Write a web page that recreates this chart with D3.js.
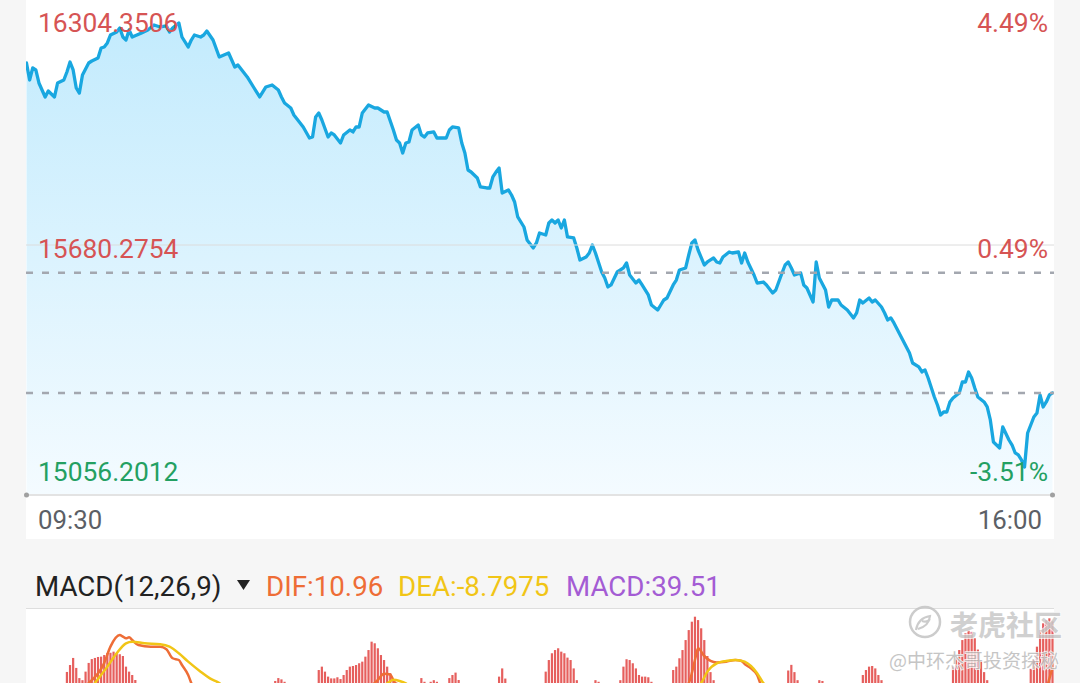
<!DOCTYPE html>
<meta charset="utf-8">
<style>
body { margin:0; background:#f6f6f6; font-family: Roboto, "Noto Sans", sans-serif; }
svg { display:block; }
</style>
<body>
<svg id="chart" width="1080" height="683"></svg>
<script src="https://d3js.org/d3.v7.min.js"></script>
<script>
// intraday data: [minute since 09:30 (lunch removed), price]
var pricePoints = [
  [0,16134.6],[1,16092.2],[2,16122.2],[3,16117.2],[4,16084.7],[6,16049.8],[7,16064.7],[9,16049.8],[10,16084.7],[12,16092.2],
  [13,16112.2],[14,16137.1],[15,16117.2],[16,16072.2],[17,16059.7],[18,16104.7],[20,16134.6],[21,16139.6],[23,16147.1],[24,16172.1],
  [25,16174.6],[26,16184.6],[27,16204.5],[29,16212.0],[30,16222.0],[31,16199.5],[32,16192.0],[33,16217.0],[34,16199.5],[37,16209.5],
  [39,16217.0],[41,16229.5],[43,16224.5],[45,16227.0],[46,16212.0],[47,16222.0],[49,16234.5],[50,16199.5],[52,16174.6],[53,16192.0],
  [54,16204.5],[56,16199.5],[57,16204.5],[58,16214.5],[60,16192.0],[62,16149.6],[65,16159.6],[67,16124.6],[68,16129.6],[71,16099.7],
  [73,16074.7],[75,16049.8],[77,16074.7],[79,16079.7],[81,16067.2],[82,16049.8],[83,16034.8],[85,16022.3],[86,16004.8],[88,15984.9],
  [89,15974.9],[91,15947.4],[92,15949.9],[93,15999.8],[94,16009.8],[95,15992.3],[97,15949.9],[98,15959.9],[99,15954.9],[101,15934.9],
  [102,15954.9],[104,15967.4],[105,15962.4],[106,15974.9],[107,15974.9],[108,16009.8],[110,16029.8],[112,16022.3],[113,16022.3],[114,16017.3],
  [115,16012.3],[116,16012.3],[118,15967.4],[119,15942.4],[120,15934.9],[121,15910.0],[122,15934.9],[123,15937.4],[124,15967.4],[126,15979.9],
  [127,15954.9],[128,15949.9],[129,15959.9],[131,15962.4],[132,15947.4],[134,15947.4],[135,15947.4],[136,15967.4],[137,15974.9],[139,15972.4],
  [140,15934.9],[141,15910.0],[142,15867.5],[143,15862.5],[144,15855.0],[145,15847.6],[146,15825.1],[148,15822.6],[149,15822.6],[150,15850.1],
  [151,15862.5],[152,15872.5],[153,15810.1],[155,15817.6],[156,15805.1],[157,15787.6],[158,15750.2],[160,15725.2],[161,15692.8],[163,15672.8],
  [164,15685.3],[165,15710.3],[167,15705.3],[168,15735.2],[169,15742.7],[170,15735.2],[171,15742.7],[172,15722.7],[173,15742.7],[174,15700.3],
  [176,15697.8],[177,15672.8],[178,15642.9],[180,15650.4],[181,15660.3],[182,15680.3],[183,15660.3],[185,15612.9],[186,15597.9],[187,15575.5],
  [188,15580.5],[190,15612.9],[192,15622.9],[193,15635.4],[194,15605.4],[196,15585.4],[197,15592.9],[198,15580.5],[200,15555.5],[201,15530.5],
  [203,15518.0],[204,15530.5],[205,15543.0],[206,15548.0],[208,15580.5],[209,15592.9],[210,15617.9],[212,15622.9],[213,15655.3],[214,15685.3],
  [215,15692.8],[216,15667.8],[218,15630.4],[219,15637.9],[221,15647.9],[222,15637.9],[223,15635.4],[224,15650.4],[226,15662.8],[227,15660.3],
  [229,15662.8],[230,15635.4],[231,15660.3],[232,15637.9],[234,15605.4],[235,15585.4],[237,15587.9],[238,15580.5],[240,15560.5],[241,15568.0],
  [243,15610.4],[244,15630.4],[245,15637.9],[246,15622.9],[247,15605.4],[249,15610.4],[250,15580.5],[251,15573.0],[252,15555.5],[253,15538.0],
  [254,15637.9],[255,15597.9],[257,15568.0],[258,15525.5],[259,15543.0],[261,15543.0],[262,15530.5],[264,15518.0],[266,15498.1],[267,15510.6],
  [268,15543.0],[269,15535.5],[271,15548.0],[272,15538.0],[273,15543.0],[275,15525.5],[276,15510.6],[277,15493.1],[278,15498.1],[279,15485.6],
  [281,15455.6],[283,15425.7],[284,15410.7],[285,15385.7],[287,15375.8],[288,15363.3],[289,15368.3],[290,15348.3],[292,15300.9],[293,15280.9],
  [294,15255.9],[295,15263.4],[296,15263.4],[297,15288.4],[298,15298.4],[300,15310.9],[301,15338.3],[302,15338.3],[303,15363.3],[304,15348.3],
  [305,15323.3],[306,15300.9],[308,15288.4],[309,15275.9],[310,15243.5],[311,15188.5],[313,15173.6],[314,15226.0],[316,15193.5],[317,15181.0],
  [318,15161.1],[319,15156.1],[320,15143.6],[321,15126.1],[322,15211.0],[324,15250.9],[325,15260.9],[326,15305.9],[327,15275.9],[328,15288.4],
  [329,15305.9],[330,15310.9]
];
var totalMinutes = 330;
var priceRange = [15056.2012, 16304.3506];
var priceLabels = ["16304.3506", "15680.2754", "15056.2012"];
var priceLabelValues = [16304.3506, 15680.2754, 15056.2012];
var pctLabels = ["4.49%", "0.49%", "-3.51%"];
var timeLabels = ["09:30", "16:00"];
var refLines = [15611.0, 15310.9];   // dashed reference prices

// MACD histogram, visible (positive) bars: [first minute, values...]
var macdBars = [
  [13, [8.1, 12.4, 16.8, 10.6, 4.3, 3]],
  [19, [8.3, 13.7, 16.1, 16.8, 17.4, 17.6, 18.6, 19.9, 20, 20.7, 19.7, 19.1, 18, 11.4, 8.3, 6.2, 3.1]],
  [80, [2.5, 4.3, 3.5, 2]],
  [94, [9.3, 11.4, 8.3, 5.2, 4.1, 4.1, 4.8, 3.7, 6.2, 9.3, 11.4, 11.8, 12.4, 13.5, 14.5, 17.6, 21.7, 26.9, 25.9, 22.8, 18.6, 15.5, 11.4, 7.3, 3.5, 1.5]],
  [127, [4.3, 2]],
  [130, [2, 3, 2]],
  [136, [4.3, 6.2, 7.7, 3.1]],
  [152, [5.2, 10.3, 4]],
  [167, [8.3, 15.5, 19.7, 21.7, 22.8, 20.7, 19.7, 17, 15.5, 10.3, 3]],
  [183, [3, 2]],
  [191, [3, 11.4, 16, 15.5, 13.5, 10.3, 6.2, 5.2, 5.2, 4.8, 2]],
  [208, [9.3, 11.4, 16.6, 21.7, 27.9, 34.1, 39.3, 42.4, 40.3, 35.2, 27.9, 18, 8, 3]],
  [245, [9, 12.5, 8, 3]],
  [255, [3, 2.5]],
  [269, [6.2, 9.3, 11.4, 11.8, 10.3, 6.2, 3]],
  [298, [11.4, 16.6, 21.7, 27.9, 32.1, 34.1, 33, 29, 22, 15, 8, 3]],
  [323, [10, 15.5, 23.8, 34.1, 38.3, 40.3, 41.4, 39.51]]
];
var difPoints = [
  [0,-12],[10,-8],[17,-3],[20,1.2],[25,13.7],[27,23.8],[30,31],[31,30],[32,29],[33,29.6],[34,27.9],[36,24.8],[40,23.8],
  [43,23.8],[45,22.2],[47,16.6],[49,15.5],[50,12.4],[52,6.2],[53,1.2],[56,-8],[70,-20],[90,-15],[105,-6],[110,-2],
  [113,3.1],[115,7],[117,6.5],[118,3],[120,-2],[125,-8],[150,-12],[180,-10],[205,-6],[211,-2],[213,1.2],[215,15.5],
  [216,22.8],[218,18],[220,15],[222,14],[225,14.5],[228,15.5],[230,14.9],[231,13],[233,10.3],[235,6.2],[236,1.2],
  [238,-4],[260,-20],[290,-35],[315,-25],[325,-8],[328,-2],[329,4],[330,10.96]
];
var deaPoints = [
  [0,-8],[20,-4],[22,1.2],[26,11.4],[29,19.7],[32,25.9],[34,26.9],[38,25.9],[43,25.3],[46,23.8],[49,19.7],[52,14.5],
  [56,8.3],[59,4.1],[62,1.2],[66,-5],[90,-15],[110,-8],[114,-2],[116,1],[118,3.2],[120,2.5],[122,1],[124,-2],[150,-10],
  [200,-8],[214,-3],[217,1.2],[219,8.3],[222,13.5],[225,14.9],[228,15.5],[231,14.5],[233,11.8],[235,7.3],[237,1.2],
  [240,-4],[270,-18],[300,-28],[320,-20],[330,-8.8]
];
var macdTitle = "MACD(12,26,9)";
var macdLegend = [
  {label: "DIF:10.96", color: "#ee6d36"},
  {label: "DEA:-8.7975", color: "#f1c516"},
  {label: "MACD:39.51", color: "#a45cd4"}
];

var svg = d3.select("#chart");
var left = 26, right = 1054;

// backgrounds
svg.append("rect").attr("x", 0).attr("y", 0).attr("width", 1080).attr("height", 683).attr("fill", "#f6f6f6");
svg.append("rect").attr("x", left).attr("y", 0).attr("width", right - left).attr("height", 539).attr("fill", "#fff");
svg.append("rect").attr("x", left).attr("y", 609).attr("width", right - left).attr("height", 74).attr("fill", "#fff");

var defs = svg.append("defs");
var grad = defs.append("linearGradient").attr("id", "areaGrad").attr("x1", 0).attr("y1", 0).attr("x2", 0).attr("y2", 1);
grad.append("stop").attr("offset", "0%").attr("stop-color", "#c3ebfd");
grad.append("stop").attr("offset", "100%").attr("stop-color", "#f4fbff");
defs.append("clipPath").attr("id", "priceClip").append("rect")
  .attr("x", left).attr("y", 0).attr("width", right - left).attr("height", 495);
defs.append("clipPath").attr("id", "macdClip").append("rect")
  .attr("x", left).attr("y", 609).attr("width", right - left).attr("height", 74);

// scales
var x = d3.scaleLinear().domain([0, totalMinutes]).range([left + 0.5, right - 1.5]);
var y = d3.scaleLinear().domain(priceRange).range([495, -5]);
var my = d3.scaleLinear().domain([0, 47.8]).range([685, 608]);

// price panel
var pg = svg.append("g").attr("clip-path", "url(#priceClip)");
var area = d3.area()
  .x(function(d) { return x(d[0]); })
  .y0(y(priceRange[0]))
  .y1(function(d) { return y(d[1]); });
pg.append("path").datum(pricePoints).attr("d", area).attr("fill", "url(#areaGrad)");

// mid grid line
svg.append("line").attr("x1", left).attr("x2", right)
  .attr("y1", y(priceLabelValues[1])).attr("y2", y(priceLabelValues[1]))
  .attr("stroke", "#dcdcdc").attr("stroke-width", 1);

// dashed reference lines
svg.selectAll(".ref").data(refLines).enter().append("line")
  .attr("class", "ref")
  .attr("x1", left).attr("x2", right)
  .attr("y1", function(d) { return y(d); }).attr("y2", function(d) { return y(d); })
  .attr("stroke", "#a3a7af").attr("stroke-width", 2.5).attr("stroke-dasharray", "7,9");

var line = d3.line()
  .x(function(d) { return x(d[0]); })
  .y(function(d) { return y(d[1]); });
pg.append("path").datum(pricePoints).attr("d", line)
  .attr("fill", "none").attr("stroke", "#19a7e0").attr("stroke-width", 3.3)
  .attr("stroke-linejoin", "round").attr("stroke-linecap", "round");

// bottom axis line with end dots
svg.append("line").attr("x1", left).attr("x2", right)
  .attr("y1", y(priceRange[0])).attr("y2", y(priceRange[0]))
  .attr("stroke", "#e3e3e3").attr("stroke-width", 2);
svg.selectAll(".enddot").data([0, totalMinutes]).enter().append("circle")
  .attr("cx", function(d) { return x(d); }).attr("cy", y(priceRange[0]))
  .attr("r", 2.5).attr("fill", "#a0a0a0");

// price labels (left) and percent labels (right)
var labelColors = ["#d65454", "#d65454", "#23a062"];
var labelBase = [32, 258, 481];
svg.selectAll(".plabel").data(priceLabels).enter().append("text")
  .attr("x", 38).attr("y", function(d, i) { return labelBase[i]; })
  .attr("fill", function(d, i) { return labelColors[i]; })
  .attr("font-size", "26.4px").text(function(d) { return d; });
svg.selectAll(".pct").data(pctLabels).enter().append("text")
  .attr("x", 1048).attr("y", function(d, i) { return labelBase[i]; })
  .attr("text-anchor", "end")
  .attr("fill", function(d, i) { return labelColors[i]; })
  .attr("font-size", "26.4px").text(function(d) { return d; });

// time labels
svg.append("text").attr("x", 38).attr("y", 529).attr("fill", "#5c5f66")
  .attr("font-size", "25.8px").text(timeLabels[0]);
svg.append("text").attr("x", 1042).attr("y", 529).attr("text-anchor", "end").attr("fill", "#5c5f66")
  .attr("font-size", "25.8px").text(timeLabels[1]);

// MACD header
svg.append("line").attr("x1", left).attr("x2", right).attr("y1", 608.5).attr("y2", 608.5)
  .attr("stroke", "#dedede").attr("stroke-width", 1);
svg.append("text").attr("x", 35).attr("y", 596).attr("fill", "#222")
  .attr("font-size", "27.7px").text(macdTitle);
svg.append("path").attr("d", "M237,580 L250,580 L243.5,590 Z").attr("fill", "#222");
var legendX = [266, 398, 566];
svg.selectAll(".leg").data(macdLegend).enter().append("text")
  .attr("x", function(d, i) { return legendX[i]; }).attr("y", 596)
  .attr("fill", function(d) { return d.color; })
  .attr("font-size", "27.7px").text(function(d) { return d.label; });

// MACD panel
var mg = svg.append("g").attr("clip-path", "url(#macdClip)");
var bars = [];
macdBars.forEach(function(c) {
  c[1].forEach(function(v, j) { bars.push([c[0] + j, v]); });
});
mg.selectAll(".bar").data(bars).enter().append("rect")
  .attr("x", function(d) { return x(d[0]) - 1.1; })
  .attr("y", function(d) { return my(d[1]); })
  .attr("width", 2.2)
  .attr("height", function(d) { return my(0) - my(d[1]); })
  .attr("fill", "#e65f5d");

var mline = d3.line()
  .x(function(d) { return x(d[0]); })
  .y(function(d) { return my(d[1]); })
  .curve(d3.curveMonotoneX);
mg.append("path").datum(difPoints).attr("d", mline)
  .attr("fill", "none").attr("stroke", macdLegend[0].color).attr("stroke-width", 2.5);
mg.append("path").datum(deaPoints).attr("d", mline)
  .attr("fill", "none").attr("stroke", macdLegend[1].color).attr("stroke-width", 2.5);

// watermark
var wm = svg.append("g").attr("opacity", 0.85);
wm.append("circle").attr("cx", 925).attr("cy", 622).attr("r", 15)
  .attr("fill", "none").attr("stroke", "#c4c4c4").attr("stroke-width", 2.5);
wm.append("path").attr("d", "M916,630 q2,-12 14,-14 q-1,10 -12,13 M922,621 q5,2 8,-2")
  .attr("fill", "none").attr("stroke", "#c4c4c4").attr("stroke-width", 2.2);
wm.append("text").attr("x", 950).attr("y", 636)
  .attr("font-family", "'Noto Sans CJK SC', sans-serif").attr("font-size", "28px").attr("font-weight", "bold")
  .attr("fill", "#c8c8c8").attr("stroke", "#fff").attr("stroke-width", 1.5)
  .attr("paint-order", "stroke").text("老虎社区");
wm.append("text").attr("x", 889).attr("y", 668)
  .attr("font-family", "'Noto Sans CJK SC', sans-serif").attr("font-size", "19px")
  .attr("fill", "#bcbcbc").attr("stroke", "#fff").attr("stroke-width", 1.5)
  .attr("paint-order", "stroke").text("@中环杰哥投资探秘");
</script>
</body>
